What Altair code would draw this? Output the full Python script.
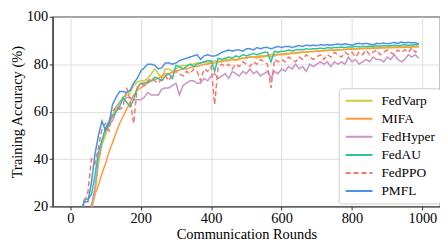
import altair as alt
import pandas as pd

rounds = list(range(0, 1000, 10))

series_names = ["FedVarp", "MIFA", "FedHyper", "FedAU", "FedPPO", "PMFL"]
series_colors = ["#cdcd3c", "#ff9a3c", "#c994c4", "#2ec49a", "#f4766c", "#4c90e2"]

pmfl = [5, 8, 12, 18, 22, 22, 30, 42, 50, 56,
        52, 55, 63, 66, 68.5, 68.5, 68, 69, 72, 74,
        77, 78.5, 80, 80, 79.5, 78, 78.5, 80.5, 80.5, 80,
        80.5, 81.5, 82, 82.5, 83, 83.5, 84, 82, 83.5, 84,
        83.5, 83.5, 84, 85, 85.5, 86, 85.5, 86, 86, 85.5,
        86.5, 86.5, 86, 87, 86.5, 87, 87, 86.5, 87, 87.5,
        87, 87.5, 87.5, 87, 87.5, 87.8, 87.5, 88, 87.8, 88,
        87.8, 88.2, 88, 88.3, 88, 88.3, 88.5, 88.2, 88.6, 88.3,
        88, 88.5, 88.8, 88.5, 88.8, 88.5, 88.2, 88.8, 88.6, 89,
        88.6, 88.8, 89.2, 88.8, 89.3, 89, 89.2, 89, 89.1, 88.5]

fedvarp = [3, 5, 8, 10, 14, 17, 18, 25, 38, 46,
           50, 54, 58, 62, 64, 66, 67, 68, 71, 72.5,
           73, 73, 74, 76, 78, 76, 74, 78, 78, 77,
           78, 79, 79.5, 79.5, 80, 80, 80.5, 80.5, 81, 80.5,
           81, 81.5, 81, 81.5, 82, 82, 82, 81.5, 82, 82.5,
           82.5, 83, 83, 82.5, 83, 83, 83.5, 83, 83.5, 84,
           84, 84, 84.3, 84.5, 84.5, 84.8, 85, 85, 85.2, 85.3,
           85.5, 85.5, 85.7, 85.8, 86, 86, 86, 86.2, 86.2, 86.4,
           86.5, 86.5, 86.6, 86.7, 86.8, 86.8, 87, 87, 87, 87.1,
           87.2, 87.2, 87.3, 87.3, 87.4, 87.4, 87.5, 87.5, 87.6, 87.5]

mifa = [2, 4, 6, 8, 10, 13, 21, 25, 29, 34,
        38, 43, 47, 51, 55, 58, 61, 64, 67, 69,
        70, 71, 72, 73, 73.5, 74, 75, 76, 76, 76.5,
        77, 77.5, 78, 78, 78.5, 79, 79, 79.5, 80, 80,
        80.5, 80.5, 81, 81, 81.5, 81.5, 82, 82, 82.3, 82.5,
        82.7, 83, 83, 83.2, 83.5, 83.5, 83.7, 84, 84, 84.2,
        84.3, 84.5, 84.5, 84.7, 84.8, 85, 85, 85.2, 85.3, 85.4,
        85.5, 85.6, 85.7, 85.8, 85.9, 86, 86, 86.1, 86.2, 86.3,
        86.3, 86.4, 86.5, 86.5, 86.6, 86.6, 86.7, 86.7, 86.8, 86.8,
        86.9, 86.9, 87, 87, 87, 87.1, 87.1, 87.2, 87.2, 87.2]

fedhyper = [3, 5, 8, 11, 14, 17, 20, 28, 40, 47,
            52, 55, 56, 60, 64, 65, 66, 66, 65, 65,
            65, 66, 68, 67, 67, 67, 69.5, 70, 70, 71,
            72, 67, 71, 72, 73, 73, 72, 72, 74, 73,
            75, 76, 74, 75, 76, 74, 77, 76, 75, 77,
            76, 78, 76, 77, 75, 76, 77, 74, 77, 76,
            78, 77, 79, 78, 80, 78, 79, 77, 80, 79,
            80, 81, 80, 81, 79, 81, 80, 81, 80, 83,
            81, 82, 80, 81, 82, 81, 83, 82, 82, 81,
            83, 82, 84, 82, 81, 82, 84, 83, 84, 82.5]

fedau = [4, 8, 12, 16, 23, 23, 25, 33, 43, 48,
         53, 56, 58, 60, 62, 66, 64, 62, 65, 70,
         72, 72, 72.5, 73, 74.5, 74, 73, 75, 76, 74,
         79.5, 79, 78, 79, 80, 79, 80, 80.5, 81, 81.5,
         81.5, 77, 82.5, 82, 82.5, 83, 82.5, 83.5, 83, 84,
         83.5, 84, 84.5, 84, 84.5, 85, 85, 81, 85.5, 85,
         85.5, 85.5, 86, 85.5, 86, 86.2, 86, 86.5, 86.3, 86.5,
         86.5, 86.8, 86.5, 87, 86.8, 87, 87, 87.2, 87, 87.3,
         87.2, 87.5, 87.3, 87.5, 87.4, 87.6, 87.5, 87.8, 87.6, 87.8,
         87.7, 87.8, 88, 87.8, 88, 88.2, 88, 88.1, 88.2, 88.3]

fedppo = [3, 6, 10, 15, 22, 26, 40, 38, 45, 53,
          55, 52, 60, 62, 61, 62, 70, 65, 55, 70,
          72, 71, 73, 74, 73, 72, 74, 75, 73, 76,
          77, 76, 75, 77, 76, 78, 77, 73, 78, 77,
          79, 63, 79, 80, 79, 80, 78, 80, 79, 81,
          80, 79, 81, 80, 82, 81, 80, 70, 82, 81,
          82, 81, 83, 82, 81, 83, 82, 84, 83, 82,
          83, 84, 82, 84, 83, 85, 84, 83, 85, 84,
          85, 83, 85, 84, 86, 84, 85, 86, 84, 85,
          86, 85, 84, 86, 85, 86, 85, 87, 85, 86]

values = {"FedVarp": fedvarp, "MIFA": mifa, "FedHyper": fedhyper,
          "FedAU": fedau, "FedPPO": fedppo, "PMFL": pmfl}

rows = []
for name in series_names:
    for r, v in zip(rounds, values[name]):
        rows.append({"round": r, "acc": v, "method": name})
df = pd.DataFrame(rows)

dash_range = [[1, 0], [1, 0], [1, 0], [1, 0], [5, 3], [1, 0]]

font = "Liberation Serif"

legend_opts = dict(title=None, orient="none", legendX=288, legendY=72,
                   symbolType="stroke", symbolSize=729, symbolStrokeWidth=2,
                   labelFontSize=13.5, labelFont=font, labelColor="black",
                   clipHeight=15, rowPadding=3.2,
                   fillColor="white", strokeColor="#cccccc",
                   cornerRadius=3, padding=5, symbolOffset=1, labelOffset=8)

chart = alt.Chart(df).mark_line(strokeWidth=1.5, clip=True).encode(
    x=alt.X("round:Q",
            scale=alt.Scale(domain=[-50, 1050], nice=False, zero=False),
            axis=alt.Axis(title="Communication Rounds", values=[0, 200, 400, 600, 800, 1000],
                          format="d", labelFlush=False)),
    y=alt.Y("acc:Q",
            scale=alt.Scale(domain=[20, 100], nice=False, zero=False),
            axis=alt.Axis(title="Training Accuracy (%)", values=[20, 40, 60, 80, 100],
                          format="d", labelFlush=False)),
    color=alt.Color("method:N",
                    scale=alt.Scale(domain=series_names, range=series_colors),
                    legend=alt.Legend(**legend_opts)),
    strokeDash=alt.StrokeDash("method:N",
                              scale=alt.Scale(domain=series_names, range=dash_range),
                              legend=alt.Legend(**legend_opts)),
    order=alt.Order("round:Q"),
).properties(
    width=390,
    height=191,
    autosize=alt.AutoSizeParams(type="none"),
    padding={"left": 45, "top": 8, "right": 0, "bottom": 40},
).configure_view(
    stroke="#333333", strokeWidth=1.2
).configure_axis(
    labelFont=font, titleFont=font, labelFontSize=14.5, titleFontSize=14.5,
    labelColor="black", titleColor="black", titleFontWeight="normal",
    domainColor="#333333", tickColor="#333333", tickSize=3.5,
    gridColor="#d6d6d6", gridWidth=0.8, labelPadding=1.5,
).configure_axisX(
    titlePadding=2.5
).configure_axisY(
    titlePadding=2
)

chart.save("out.html", embed_options={"renderer": "svg", "actions": False})
